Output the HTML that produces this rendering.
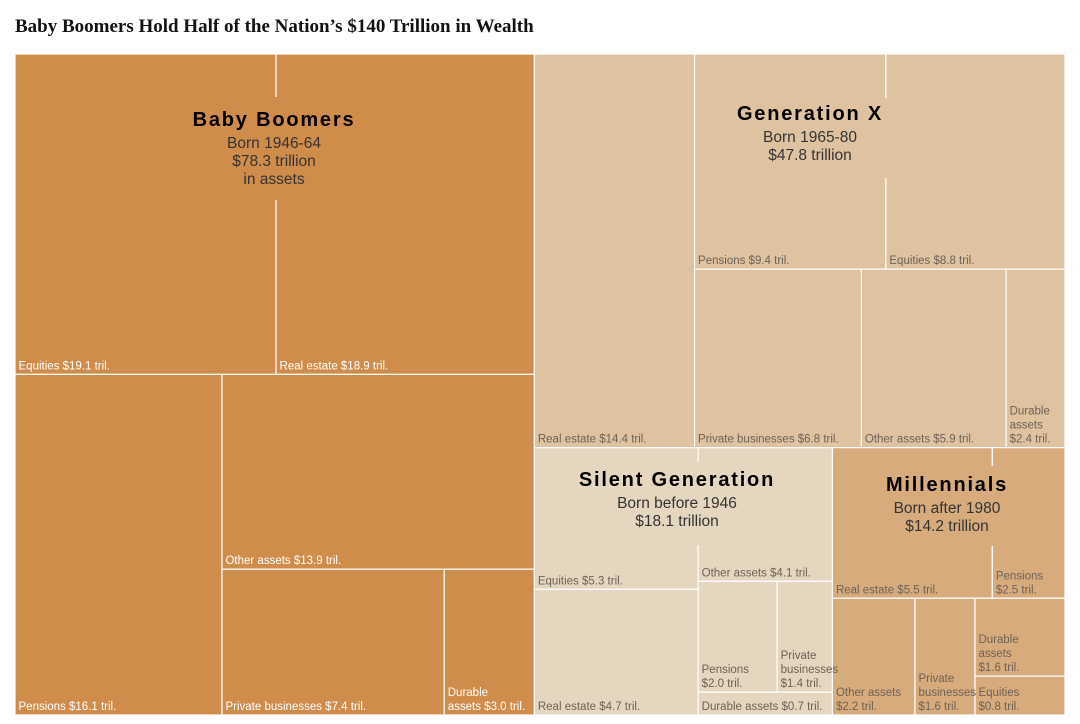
<!DOCTYPE html>
<html><head><meta charset="utf-8">
<style>
body{margin:0;background:#fff;}
svg{display:block;font-family:"Liberation Sans",sans-serif;}
</style></head>
<body>
<svg id="chart" width="1080" height="724">
<text x="15" y="32" font-family="Liberation Serif, serif" font-weight="bold" font-size="19" fill="#121212">Baby Boomers Hold Half of the Nation’s $140 Trillion in Wealth</text>
</svg>
<script>
// data: generations and their asset values (trillions)
const genNames = ["Baby Boomers","Generation X","Silent Generation","Millennials"];
const genTotals = [78.3, 47.8, 18.1, 14.2];
const boomerValues = [19.1, 18.9, 16.1, 13.9, 7.4, 3.0];
const boomerLabels = ["Equities $19.1 tril.","Real estate $18.9 tril.","Pensions $16.1 tril.","Other assets $13.9 tril.","Private businesses $7.4 tril.","Durable\nassets $3.0 tril."];
const genXValues = [14.4, 9.4, 8.8, 6.8, 5.9, 2.4];
const genXLabels = ["Real estate $14.4 tril.","Pensions $9.4 tril.","Equities $8.8 tril.","Private businesses $6.8 tril.","Other assets $5.9 tril.","Durable\nassets\n$2.4 tril."];
const silentValues = [5.3, 4.7, 4.1, 2.0, 1.4, 0.7];
const silentLabels = ["Equities $5.3 tril.","Real estate $4.7 tril.","Other assets $4.1 tril.","Pensions\n$2.0 tril.","Private\nbusinesses\n$1.4 tril.","Durable assets $0.7 tril."];
const millValues = [5.5, 2.5, 2.2, 1.6, 1.6, 0.8];
const millLabels = ["Real estate $5.5 tril.","Pensions\n$2.5 tril.","Other assets\n$2.2 tril.","Private\nbusinesses\n$1.6 tril.","Durable\nassets\n$1.6 tril.","Equities\n$0.8 tril."];
const genSubtitles = [["Born 1946-64","$78.3 trillion","in assets"],["Born 1965-80","$47.8 trillion"],["Born before 1946","$18.1 trillion"],["Born after 1980","$14.2 trillion"]];

const NS="http://www.w3.org/2000/svg";
const svg=document.getElementById('chart');
const colors=["#cf8c4b","#dfc29f","#e5d6bf","#d8ab7d"];
const labelColors=["#ffffff","#6b6258","#6b6258","#6b6258"];

function leaf(g,i){return {g:g,i:i};}
const tree={d:'h',c:[
  {gen:0,d:'v',c:[{d:'h',c:[leaf(0,0),leaf(0,1)]},{d:'h',c:[leaf(0,2),{d:'v',c:[leaf(0,3),{d:'h',c:[leaf(0,4),leaf(0,5)]}]}]}]},
  {d:'v',c:[
    {gen:1,d:'h',c:[leaf(1,0),{d:'v',c:[{d:'h',c:[leaf(1,1),leaf(1,2)]},{d:'h',c:[leaf(1,3),leaf(1,4),leaf(1,5)]}]}]},
    {d:'h',c:[
      {gen:2,d:'h',c:[{d:'v',c:[leaf(2,0),leaf(2,1)]},{d:'v',c:[leaf(2,2),{d:'v',c:[{d:'h',c:[leaf(2,3),leaf(2,4)]},leaf(2,5)]}]}]},
      {gen:3,d:'v',c:[{d:'h',c:[leaf(3,0),leaf(3,1)]},{d:'h',c:[leaf(3,2),leaf(3,3),{d:'v',c:[leaf(3,4),leaf(3,5)]}]}]}
    ]}
  ]}
]};
const vals=[boomerValues,genXValues,silentValues,millValues];
const labs=[boomerLabels,genXLabels,silentLabels,millLabels];
function sum(n){ if(n.g!==undefined) return vals[n.g][n.i]; return n.c.reduce((a,b)=>a+sum(b),0); }
const leaves=[]; const genBoxes=[];
function layout(n,x,y,w,h){
  if(n.gen!==undefined) genBoxes[n.gen]={x,y,w,h};
  if(n.g!==undefined){leaves.push({n,x,y,w,h});return;}
  const tot=sum(n); let off=0;
  n.c.forEach(ch=>{const f=sum(ch)/tot;
    if(n.d==='h'){layout(ch,x+off,y,w*f,h);off+=w*f;}
    else{layout(ch,x,y+off,w,h*f);off+=h*f;}});
}
layout(tree,15,54,1050,661);

leaves.forEach(l=>{
  const r=document.createElementNS(NS,'rect');
  
  
  r.setAttribute('x',l.x);r.setAttribute('y',l.y);r.setAttribute('width',l.w);r.setAttribute('height',l.h);
  r.setAttribute('fill',colors[l.n.g]);r.setAttribute('stroke','#fff');r.setAttribute('stroke-width','1.2');
  svg.appendChild(r);
});
leaves.forEach(l=>{
  const lines=labs[l.n.g][l.n.i].split('\n');
  const t=document.createElementNS(NS,'text');
  
  
  t.setAttribute('font-size','11.5');t.setAttribute('fill',labelColors[l.n.g]);
  lines.forEach((s,k)=>{const ts=document.createElementNS(NS,'tspan');
    ts.setAttribute('x',l.x+3.5);ts.setAttribute('y',l.y+l.h-5-(lines.length-1-k)*14);ts.textContent=s;t.appendChild(ts);});
  svg.appendChild(t);
});
// generation titles
const titleY=[119,113,479,484];
const titleCx=[274,810,677,947];
const bgTop=[-22,-15,-17,-18];
const bgBottom=[81,65,66,62];
genBoxes.forEach((b,g)=>{
  const ty=titleY[g]; const cx=titleCx[g];
  const sub=genSubtitles[g];
  const bg=document.createElementNS(NS,'rect');
  
  
  bg.setAttribute('x',cx-95);bg.setAttribute('y',ty+bgTop[g]);bg.setAttribute('width',190);bg.setAttribute('height',bgBottom[g]-bgTop[g]);
  bg.setAttribute('fill',colors[g]);svg.appendChild(bg);
  const t=document.createElementNS(NS,'text');
  
  
  t.setAttribute('x',cx);t.setAttribute('y',ty+7);t.setAttribute('text-anchor','middle');
  t.setAttribute('font-size','20');t.setAttribute('font-weight','bold');t.setAttribute('letter-spacing','1.8');t.setAttribute('fill','#000');
  t.textContent=genNames[g];svg.appendChild(t);
  const s=document.createElementNS(NS,'text');
  
  
  s.setAttribute('text-anchor','middle');s.setAttribute('font-size','15.5');s.setAttribute('fill','#333');
  sub.forEach((line,k)=>{const ts=document.createElementNS(NS,'tspan');ts.setAttribute('x',cx);ts.setAttribute('y',ty+29+k*18);ts.textContent=line;s.appendChild(ts);});
  svg.appendChild(s);
});
</script>
</body></html>
